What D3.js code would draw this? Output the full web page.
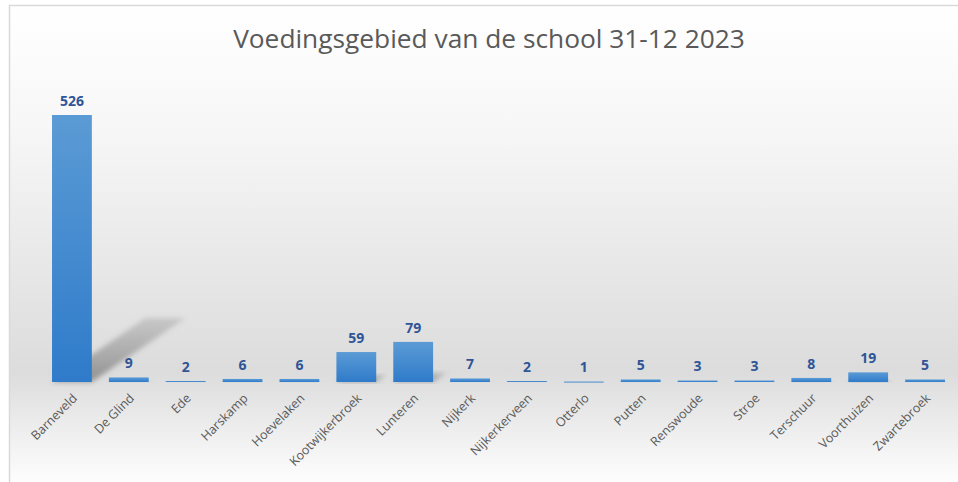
<!DOCTYPE html>
<html>
<head>
<meta charset="utf-8">
<script src="https://cdn.jsdelivr.net/npm/d3@7"></script>
<style>
  html, body { margin: 0; padding: 0; background: #fff; }
  svg { display: block; }
</style>
</head>
<body>
<svg id="chart" width="958" height="482"></svg>
<script>
// data
const plaatsen = ["Barneveld", "De Glind", "Ede", "Harskamp", "Hoevelaken", "Kootwijkerbroek",
  "Lunteren", "Nijkerk", "Nijkerkerveen", "Otterlo", "Putten", "Renswoude", "Stroe",
  "Terschuur", "Voorthuizen", "Zwartebroek"];
const leerlingen = [526, 9, 2, 6, 6, 59, 79, 7, 2, 1, 5, 3, 3, 8, 19, 5];
const titel = "Voedingsgebied van de school 31-12 2023";

const width = 958, height = 482;
const baseY = 382;

const svg = d3.select("#chart");
const defs = svg.append("defs");

// background gradient (light top, grey near baseline, light bottom)
const bg = defs.append("linearGradient")
  .attr("id", "bg").attr("x1", 0).attr("y1", 0).attr("x2", 0).attr("y2", 1);
bg.append("stop").attr("offset", "0%").attr("stop-color", "#ffffff");
bg.append("stop").attr("offset", "25%").attr("stop-color", "#f7f7f7");
bg.append("stop").attr("offset", "76%").attr("stop-color", "#dcdcdc");
bg.append("stop").attr("offset", "100%").attr("stop-color", "#ffffff");

const barGrad = defs.append("linearGradient")
  .attr("id", "barGrad").attr("x1", 0).attr("y1", 0).attr("x2", 0).attr("y2", 1);
barGrad.append("stop").attr("offset", "0%").attr("stop-color", "#5b9bd5");
barGrad.append("stop").attr("offset", "100%").attr("stop-color", "#2f7bca");

const shGrad = defs.append("linearGradient")
  .attr("id", "shGrad").attr("x1", 0).attr("y1", 1).attr("x2", 0).attr("y2", 0);
shGrad.append("stop").attr("offset", "0%").attr("stop-color", "#555").attr("stop-opacity", 0.55);
shGrad.append("stop").attr("offset", "100%").attr("stop-color", "#777").attr("stop-opacity", 0.25);

defs.append("filter").attr("id", "blur")
  .attr("x", "-20%").attr("y", "-20%").attr("width", "140%").attr("height", "140%")
  .append("feGaussianBlur").attr("stdDeviation", 2.5);

svg.append("rect")
  .attr("x", 9.5).attr("y", 5.5).attr("width", width).attr("height", height)
  .attr("fill", "url(#bg)")
  .attr("stroke", "#d9d9d9").attr("stroke-width", 1.5);

const x = d3.scaleBand().domain(plaatsen).range([43.5, 953.5]).paddingInner(0.3).paddingOuter(0.15);
const y = d3.scaleLinear().domain([0, 526]).range([baseY, 115]);

// title
svg.append("text")
  .attr("x", 489).attr("y", 48)
  .attr("text-anchor", "middle")
  .attr("font-family", "Open Sans, sans-serif")
  .attr("font-size", 26.3)
  .attr("fill", "#595959")
  .text(titel);

const rows = plaatsen.map((p, i) => ({ p, v: leerlingen[i] }));

// perspective shadows
svg.append("g").selectAll("path")
  .data(rows)
  .join("path")
  .attr("filter", "url(#blur)")
  .attr("fill", "url(#shGrad)")
  .attr("d", d => {
    const x0 = x(d.p), x1 = x0 + x.bandwidth();
    const h = baseY - y(d.v);
    const dx = h * 0.35, dy = -h * 0.24;
    return `M${x0},${baseY}L${x1},${baseY}L${x1 + dx},${baseY + dy}L${x0 + dx},${baseY + dy}Z`;
  });

// bars
svg.append("g").selectAll("rect")
  .data(rows)
  .join("rect")
  .attr("x", d => x(d.p))
  .attr("y", d => y(d.v))
  .attr("width", x.bandwidth())
  .attr("height", d => Math.max(1, baseY - y(d.v)))
  .attr("fill", "url(#barGrad)");

// value labels
svg.append("g").selectAll("text")
  .data(rows)
  .join("text")
  .attr("x", d => x(d.p) + x.bandwidth() / 2)
  .attr("y", d => y(d.v) - 9)
  .attr("text-anchor", "middle")
  .attr("font-family", "Open Sans, sans-serif")
  .attr("font-weight", "bold")
  .attr("font-size", 14)
  .attr("fill", "#2f5597")
  .text(d => d.v);

// category labels
const xAxis = svg.append("g")
  .attr("transform", `translate(0,${baseY})`)
  .call(d3.axisBottom(x).tickSize(0).tickPadding(0));
xAxis.select(".domain").remove();
xAxis.selectAll("text")
  .attr("font-family", "Open Sans, sans-serif")
  .attr("font-size", 12.5)
  .attr("fill", "#595959")
  .attr("text-anchor", "end")
  .attr("dy", null)
  .attr("transform", "translate(6,17) rotate(-45)");
</script>
</body>
</html>
